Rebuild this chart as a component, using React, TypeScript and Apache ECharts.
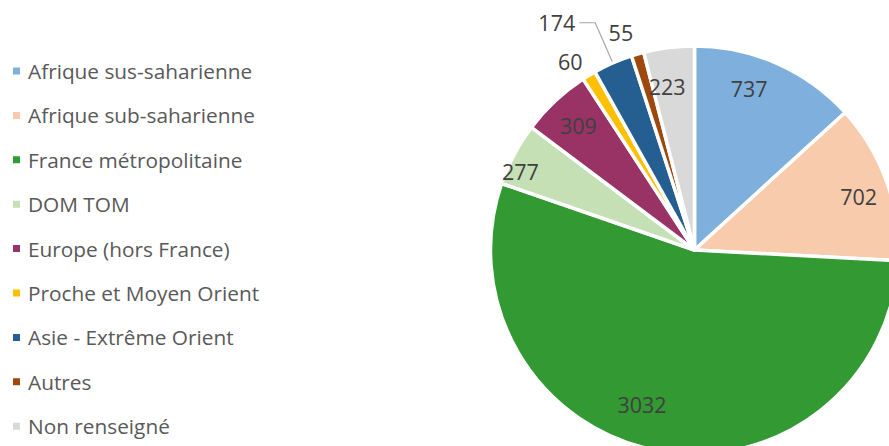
import React, { useEffect, useRef } from "react";
import * as echarts from "echarts";

const categories = [
  "Afrique sus-saharienne",
  "Afrique sub-saharienne",
  "France métropolitaine",
  "DOM TOM",
  "Europe (hors France)",
  "Proche et Moyen Orient",
  "Asie - Extrême Orient",
  "Autres",
  "Non renseigné",
];
const values = [737, 702, 3032, 277, 309, 60, 174, 55, 223];
const colors = [
  "#7FB0DD",
  "#F8CBAD",
  "#339933",
  "#C5E0B4",
  "#993366",
  "#FFC000",
  "#255E91",
  "#9E480E",
  "#D9D9D9",
];
// slices whose label sits outside the pie
const outsideLabels: Record<string, { length: number; length2: number; line: boolean }> = {
  "Proche et Moyen Orient": { length: 16, length2: 0, line: false },
  "Asie - Extrême Orient": { length: 44, length2: 16, line: true },
  Autres: { length: 23, length2: 0, line: false },
};
// small nudges of the inside labels, as Excel placed them
const labelNudges: Record<string, number[]> = {
  "Afrique sus-saharienne": [-14, -6],
  "Afrique sub-saharienne": [4, 4],
  "France métropolitaine": [-20, -12],
  "DOM TOM": [-24, 1],
  "Non renseigné": [-6, 5],
};

export default function App() {
  const ref = useRef<HTMLDivElement>(null);
  useEffect(() => {
    if (!ref.current) return;
    const chart = echarts.init(ref.current, null, { renderer: "svg" });
    const font = "'Open Sans', sans-serif";
    const R = 204;
    const C = [694.5, 250];
    const mainData = categories.map((name, i) => {
      const o = outsideLabels[name];
      return {
        name,
        value: values[i],
        itemStyle: { color: colors[i] },
        label: o
          ? {
              show: true,
              position: "outside",
              distanceToLabelLine: o.line ? 4 : -2,
            }
          : { show: false },
        labelLine: o
          ? {
              show: o.line,
              length: o.length,
              length2: o.length2,
              lineStyle: { color: "#A6A6A6", width: 1.2 },
            }
          : { show: false },
      };
    });
    const labelData = categories.map((name, i) => ({
      name,
      value: values[i],
      itemStyle: { color: "rgba(0,0,0,0)" },
      label: outsideLabels[name]
        ? { show: false }
        : labelNudges[name]
        ? { show: true, offset: labelNudges[name] }
        : { show: true },
    }));
    chart.setOption({
      animation: false,
      legend: {
        orient: "vertical",
        left: 11,
        top: 59,
        height: 387,
        padding: 0,
        itemWidth: 9,
        itemHeight: 9,
        itemGap: 20.4,
        icon: "rect",
        selectedMode: false,
        data: categories,
        textStyle: {
          fontFamily: font,
          fontSize: 20.8,
          color: "#595959",
          lineHeight: 24,
          padding: [0, 0, 0, 2],
        },
      },
      series: [
        {
          type: "pie",
          center: C,
          radius: [0, R],
          startAngle: 90,
          clockwise: true,
          avoidLabelOverlap: false,
          itemStyle: { borderColor: "#FFFFFF", borderWidth: 3.5 },
          label: {
            fontFamily: font,
            fontSize: 21.5,
            color: "#404040",
            formatter: "{c}",
          },
          emphasis: { disabled: true },
          data: mainData,
        },
        {
          type: "pie",
          center: C,
          radius: [130, R],
          startAngle: 90,
          clockwise: true,
          silent: true,
          avoidLabelOverlap: false,
          label: {
            position: "inside",
            fontFamily: font,
            fontSize: 21.5,
            color: "#404040",
            formatter: "{c}",
          },
          labelLine: { show: false },
          emphasis: { disabled: true },
          data: labelData,
        },
      ],
    });
    return () => chart.dispose();
  }, []);
  return (
    <div
      ref={ref}
      style={{ position: "fixed", left: 0, top: 0, width: 889, height: 446, background: "#FFFFFF" }}
    />
  );
}
